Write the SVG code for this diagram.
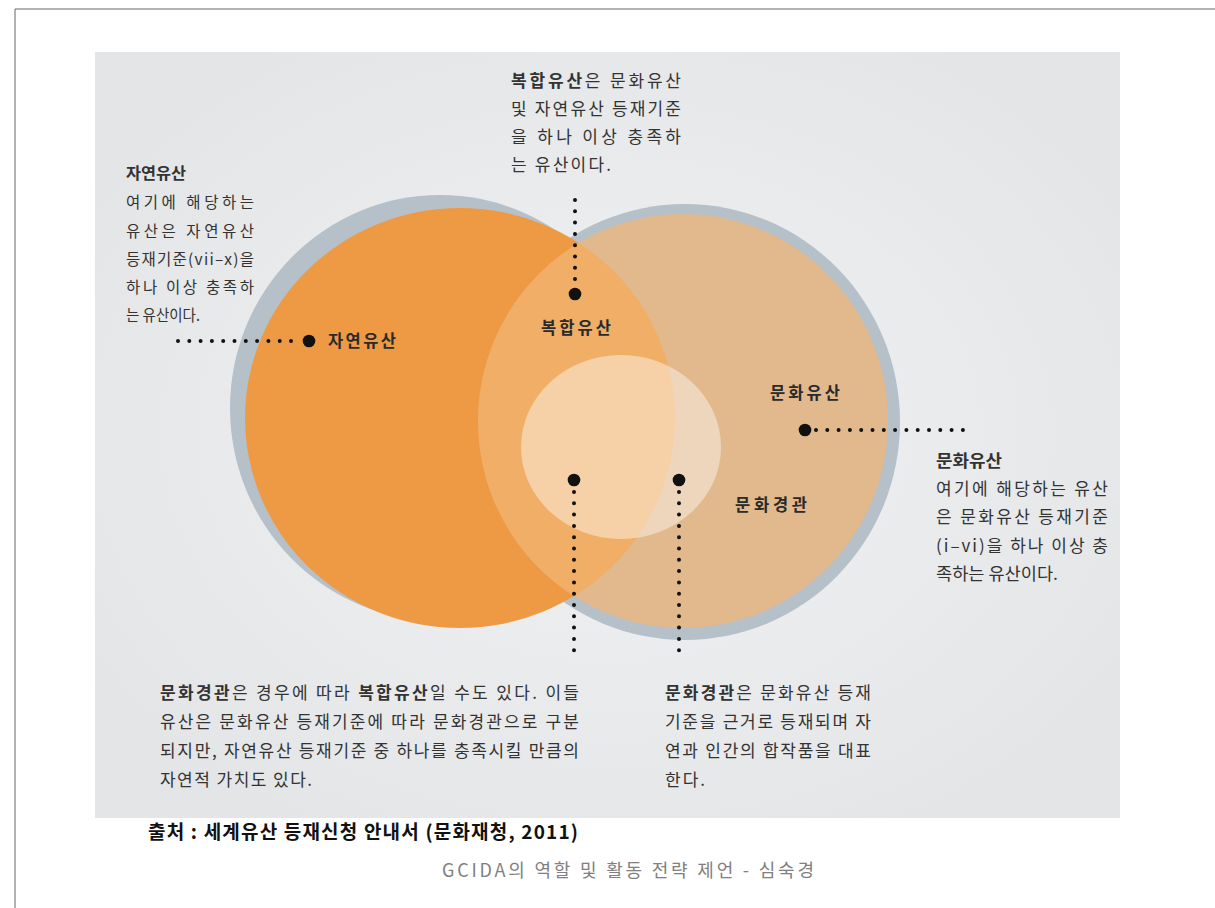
<svg xmlns="http://www.w3.org/2000/svg" width="1215" height="908" viewBox="0 0 1215 908">
<defs>
<style>
.t{font-family:"Noto Sans CJK KR","Noto Sans",sans-serif;fill:#333;font-size:17px}
.s{font-size:15.5px}
.b{font-weight:bold}
.lbl{font-family:"Noto Sans CJK KR","Noto Sans",sans-serif;fill:#2a2a2a;font-size:16.5px;font-weight:bold}
.dots{stroke:#111;stroke-width:4;stroke-linecap:round;stroke-dasharray:0 11.3;fill:none}
.big{fill:#111}
</style>
<radialGradient id="panelGrad" cx="0.5" cy="0.5" r="0.6">
<stop offset="0" stop-color="#f0f2f3"/>
<stop offset="1" stop-color="#e3e5e7"/>
</radialGradient>
</defs>
<rect width="1215" height="908" fill="#ffffff"/>
<path d="M15 908 V9 H1215" fill="none" stroke="#666" stroke-width="1"/>
<rect x="95" y="52" width="1025" height="766" fill="url(#panelGrad)"/>

<g id="circles">
<ellipse cx="440" cy="408" rx="210" ry="213" fill="#b6c0c8"/>
<ellipse cx="685" cy="422" rx="215" ry="218" fill="#b6c0c8"/>
<ellipse cx="460" cy="418" rx="215" ry="210" fill="#ee9a45"/>
<ellipse cx="683" cy="421" rx="205" ry="207" fill="rgb(241,182,116)" fill-opacity="0.72"/>
<ellipse cx="621" cy="447" rx="100" ry="92" fill="#ffffff" fill-opacity="0.42"/>
</g>

<g id="connectors">
<line class="dots" x1="575" y1="200" x2="575" y2="284"/>
<circle class="big" cx="575" cy="294" r="6.3"/>
<line class="dots" x1="178" y1="341" x2="298" y2="341"/>
<circle class="big" cx="309" cy="341" r="6.3"/>
<line class="dots" x1="816" y1="430" x2="970" y2="430"/>
<circle class="big" cx="805" cy="430" r="6.3"/>
<circle class="big" cx="574" cy="480" r="6.3"/>
<line class="dots" x1="574" y1="492" x2="574" y2="660"/>
<circle class="big" cx="679" cy="480" r="6.3"/>
<line class="dots" x1="679" y1="492" x2="679" y2="660"/>
</g>

<g id="label-natural"><text class="lbl" x="328" y="347" textLength="68" lengthAdjust="spacing">자연유산</text></g>
<g id="label-mixed"><text class="lbl" x="541" y="334" textLength="70" lengthAdjust="spacing">복합유산</text></g>
<g id="label-cultural"><text class="lbl" x="770" y="399" textLength="70" lengthAdjust="spacing">문화유산</text></g>
<g id="label-landscape"><text class="lbl" x="735" y="511" textLength="72" lengthAdjust="spacing">문화경관</text></g>

<g id="note-mixed">
<text class="t" x="511" y="87" textLength="170" lengthAdjust="spacing"><tspan class="b">복합유산</tspan>은 문화유산</text>
<text class="t" x="511" y="115" textLength="170" lengthAdjust="spacing">및 자연유산 등재기준</text>
<text class="t" x="511" y="143" textLength="170" lengthAdjust="spacing">을 하나 이상 충족하</text>
<text class="t" x="511" y="171" textLength="100" lengthAdjust="spacing">는 유산이다.</text>
</g>

<g id="note-natural">
<text class="t s b" x="126" y="179" textLength="60" lengthAdjust="spacingAndGlyphs">자연유산</text>
<text class="t s" x="126" y="208" textLength="128" lengthAdjust="spacing">여기에 해당하는</text>
<text class="t s" x="126" y="237" textLength="128" lengthAdjust="spacing">유산은 자연유산</text>
<text class="t s" x="126" y="265" textLength="128" lengthAdjust="spacing">등재기준(vii–x)을</text>
<text class="t s" x="126" y="293" textLength="128" lengthAdjust="spacing">하나 이상 충족하</text>
<text class="t s" x="126" y="321" textLength="74" lengthAdjust="spacingAndGlyphs">는 유산이다.</text>
</g>

<g id="note-cultural">
<text class="t b" x="936" y="467" textLength="66" lengthAdjust="spacingAndGlyphs">문화유산</text>
<text class="t" x="936" y="495" textLength="172" lengthAdjust="spacing">여기에 해당하는 유산</text>
<text class="t" x="936" y="523" textLength="172" lengthAdjust="spacing">은 문화유산 등재기준</text>
<text class="t" x="936" y="552" textLength="172" lengthAdjust="spacing">(i–vi)을 하나 이상 충</text>
<text class="t" x="936" y="580" textLength="122" lengthAdjust="spacingAndGlyphs">족하는 유산이다.</text>
</g>

<g id="note-landscape-mixed">
<text class="t" x="160" y="699" textLength="419" lengthAdjust="spacing"><tspan class="b">문화경관</tspan>은 경우에 따라 <tspan class="b">복합유산</tspan>일 수도 있다. 이들</text>
<text class="t" x="160" y="728" textLength="419" lengthAdjust="spacing">유산은 문화유산 등재기준에 따라 문화경관으로 구분</text>
<text class="t" x="160" y="757" textLength="419" lengthAdjust="spacing">되지만, 자연유산 등재기준 중 하나를 충족시킬 만큼의</text>
<text class="t" x="160" y="786" textLength="152" lengthAdjust="spacing">자연적 가치도 있다.</text>
</g>

<g id="note-landscape">
<text class="t" x="665" y="699" textLength="206" lengthAdjust="spacing"><tspan class="b">문화경관</tspan>은 문화유산 등재</text>
<text class="t" x="665" y="728" textLength="206" lengthAdjust="spacing">기준을 근거로 등재되며 자</text>
<text class="t" x="665" y="757" textLength="206" lengthAdjust="spacing">연과 인간의 합작품을 대표</text>
<text class="t" x="665" y="786" textLength="40" lengthAdjust="spacing">한다.</text>
</g>

<g id="source">
<text class="t b" x="148" y="839" style="font-size:19px;fill:#111" textLength="430" lengthAdjust="spacing">출처 : 세계유산 등재신청 안내서 (문화재청, 2011)</text>
</g>
<g id="footer">
<text class="t" x="442" y="877" style="font-size:18px;fill:#808080" textLength="372" lengthAdjust="spacing">GCIDA의 역할 및 활동 전략 제언 - 심숙경</text>
</g>
</svg>
